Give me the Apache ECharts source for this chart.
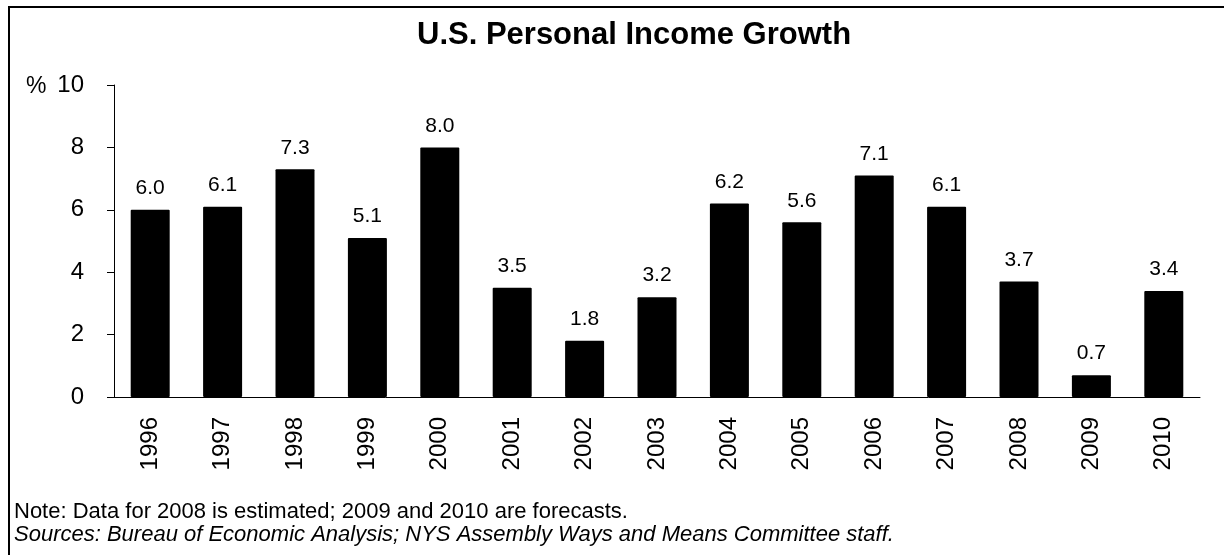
<!DOCTYPE html>
<html>
<head>
<meta charset="utf-8">
<title>U.S. Personal Income Growth</title>
<script src="https://cdn.jsdelivr.net/npm/echarts@6/dist/echarts.min.js"></script>
<style>
  html, body { margin: 0; padding: 0; background: #fff; }
  #chart { width: 1224px; height: 555px; }
</style>
</head>
<body>
<div id="chart"></div>
<script>
// Annual growth of U.S. personal income, percent
const years = ['1996', '1997', '1998', '1999', '2000', '2001', '2002', '2003',
               '2004', '2005', '2006', '2007', '2008', '2009', '2010'];
const growth = [6.0, 6.1, 7.3, 5.1, 8.0, 3.5, 1.8, 3.2, 6.2, 5.6, 7.1, 6.1, 3.7, 0.7, 3.4];
const yTicks = { min: 0, max: 10, step: 2 };

const titleText = 'U.S. Personal Income Growth';
const unitText = '%';
const noteText = 'Note: Data for 2008 is estimated; 2009 and 2010 are forecasts.';
const sourceText = 'Sources: Bureau of Economic Analysis; NYS Assembly Ways and Means Committee staff.';

const FONT = '"Liberation Sans", Arial, Helvetica, sans-serif';

const chart = echarts.init(document.getElementById('chart'), null, { renderer: 'canvas' });

chart.setOption({
  backgroundColor: '#ffffff',
  animation: false,
  grid: { left: 114, right: 24, top: 85, bottom: 158, containLabel: false },
  xAxis: {
    type: 'category',
    data: years,
    axisLine: { show: true, lineStyle: { color: '#000', width: 1 } },
    axisTick: { show: false },
    axisLabel: {
      rotate: 90,
      margin: 20,
      color: '#000',
      fontFamily: FONT,
      fontSize: 24
    },
    splitLine: { show: false }
  },
  yAxis: {
    type: 'value',
    min: yTicks.min,
    max: yTicks.max,
    interval: yTicks.step,
    axisLine: { show: true, lineStyle: { color: '#000', width: 1 } },
    axisTick: { show: true, length: 7, lineStyle: { color: '#000' } },
    axisLabel: {
      margin: 30,
      color: '#000',
      fontFamily: FONT,
      fontSize: 24
    },
    splitLine: { show: false }
  },
  series: [{
    type: 'bar',
    data: growth,
    barWidth: 39,
    itemStyle: { color: '#000', borderRadius: 1 },
    label: {
      show: true,
      position: 'top',
      distance: 11,
      color: '#000',
      fontFamily: FONT,
      fontSize: 21,
      formatter: p => p.value.toFixed(1)
    }
  }],
  graphic: [
    {
      type: 'rect',
      shape: { x: 9, y: 7, width: 1300, height: 700 },
      style: { fill: 'none', stroke: '#000', lineWidth: 2 },
      silent: true
    },
    {
      type: 'text',
      left: 417,
      top: 20,
      style: {
        text: titleText,
        fill: '#000',
        font: 'bold 31px ' + FONT
      }
    },
    {
      type: 'text',
      left: 26,
      top: 75,
      style: {
        text: unitText,
        fill: '#000',
        font: '23px ' + FONT
      }
    },
    {
      type: 'text',
      left: 14,
      top: 501,
      style: {
        text: noteText,
        fill: '#000',
        font: '22px ' + FONT
      }
    },
    {
      type: 'text',
      left: 14,
      top: 524,
      style: {
        text: sourceText,
        fill: '#000',
        font: 'italic 22px ' + FONT
      }
    }
  ]
});
</script>
</body>
</html>
